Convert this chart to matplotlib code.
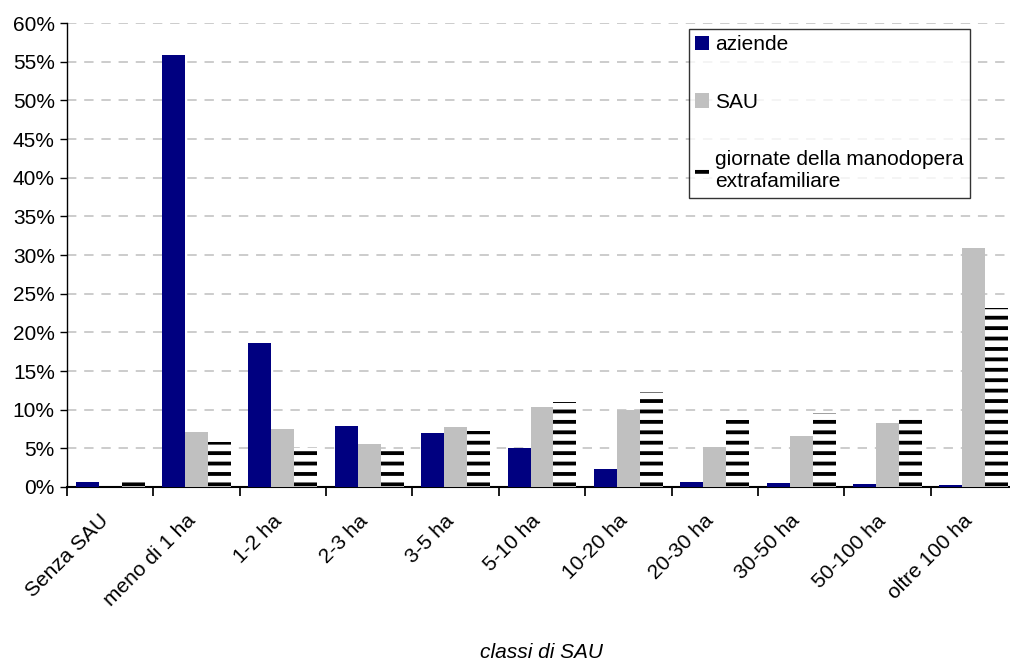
import matplotlib.pyplot as plt
import matplotlib.transforms as mtransforms
import numpy as np

plt.rcParams['font.family'] = ['Liberation Sans', 'DejaVu Sans']

# classi di SAU
categorie = ["Senza SAU", "meno di 1 ha", "1-2 ha", "2-3 ha", "3-5 ha", "5-10 ha",
             "10-20 ha", "20-30 ha", "30-50 ha", "50-100 ha", "oltre 100 ha"]
# percentuali
aziende = [0.65, 55.9, 18.6, 7.9, 7.0, 5.1, 2.3, 0.7, 0.55, 0.4, 0.3]
sau = [0.0, 7.1, 7.5, 5.6, 7.8, 10.4, 9.9, 5.2, 6.6, 8.3, 30.9]
giornate = [1.3, 5.8, 5.0, 4.9, 7.3, 11.0, 12.3, 8.7, 9.6, 9.2, 23.2]

dpi = 125
fs = 12
fig = plt.figure(figsize=(1011 / dpi, 663 / dpi), dpi=dpi)
ax = fig.add_axes([67 / 1011, 1 - 487 / 663, 950 / 1011, 464 / 663])

x = np.arange(len(categorie))
w = 0.266
plt.rcParams['hatch.linewidth'] = 2.2
ax.bar(x - w, aziende, w, color='#000080', label='aziende', zorder=3)
ax.bar(x, sau, w, color='#C0C0C0', label='SAU', zorder=3)
ax.bar(x + w, giornate, w, color='white', edgecolor='black', linewidth=0,
       hatch='--', label='giornate della manodopera\nextrafamiliare', zorder=3)

ax.set_xlim(-0.5, len(categorie) - 0.5)
ax.set_ylim(0, 60)
ax.set_yticks(np.arange(0, 61, 5))
ax.set_yticklabels([f"{v}%" for v in range(0, 61, 5)], fontsize=fs)
ax.yaxis.grid(True, linestyle=(0, (6, 5)), color='#C0C0C0', linewidth=0.9, zorder=0)
ax.tick_params(axis='y', length=4, width=0.8, pad=3)

ax.set_xticks(x)
ax.set_xticklabels(categorie, rotation=45, ha='right', rotation_mode='anchor', fontsize=fs)
ax.tick_params(axis='x', which='major', length=0, pad=14)
ax.set_xticks(np.arange(-0.5, len(categorie), 1), minor=True)
ax.tick_params(axis='x', which='minor', length=5, width=1)
shift = mtransforms.ScaledTranslation(-11 / dpi, 0, fig.dpi_scale_trans)
for lab in ax.get_xticklabels():
    lab.set_transform(lab.get_transform() + shift)

for s in ['top', 'right']:
    ax.spines[s].set_visible(False)
ax.spines['left'].set_linewidth(0.8)
ax.spines['bottom'].set_linewidth(1.2)

ax.set_xlabel('classi di SAU', style='italic', fontsize=fs)
ax.xaxis.set_label_coords(0.5, -0.337)

leg = fig.legend(loc='upper left', bbox_to_anchor=(689 / 1011, 1 - 29 / 663),
                 fontsize=fs, frameon=True, fancybox=False, edgecolor='black',
                 handlelength=0.68, handleheight=0.68, handletextpad=0.25,
                 labelspacing=1.85, borderpad=0.3, borderaxespad=0)
leg.get_frame().set_linewidth(0.8)

fig.savefig('out.png', dpi=dpi)
